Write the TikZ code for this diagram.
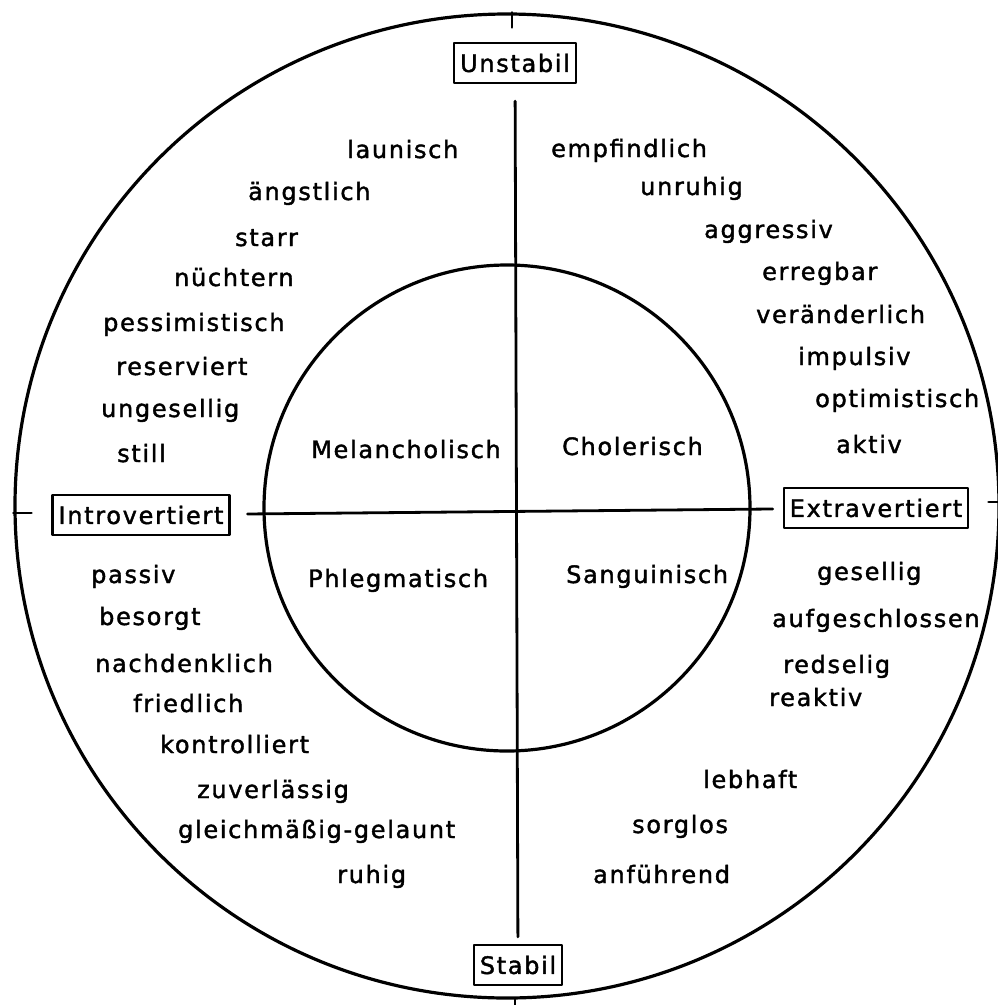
\documentclass[tikz,border=0pt]{standalone}
\usepackage{fontspec}
\setmainfont{DejaVu Sans}[LetterSpace=7,FakeBold=1.6]
\newcommand{\wordfont}{\fontsize{24}{28}\selectfont}

\tikzset{
  ring/.style={draw,circle,line width=3.2pt,inner sep=0pt},
  axis/.style={line width=2.8pt},
  pole/.style={draw,line width=2.2pt,inner xsep=6pt,minimum height=40pt,font=\wordfont},
  trait/.style={anchor=base west,inner sep=0pt,font=\wordfont},
}

\begin{document}
\begin{tikzpicture}[x=1pt,y=-1pt,line cap=round,line join=round]
  \useasboundingbox (0,0) rectangle (997,1005);
  % circles
  \node[ring,minimum size=984pt] (outer) at (507,506) {};
  \node[ring,minimum size=486pt] (inner) at (507,508) {};
  % poles
  \node[pole] (unstabil) at (515,63) {Unstabil};
  \node[pole] (stabil) at (518,965) {Stabil};
  \node[pole] (intro) at (141,515) {Introvertiert};
  \node[pole] (extra) at (876,508) {Extravertiert};
  \draw[axis,shorten <=17pt,shorten >=7pt] (unstabil) -- (stabil);
  \draw[axis,shorten <=17pt,shorten >=10pt] (intro) -- (extra);
  % ticks on the outer circle
  \draw[axis] ([xshift=5pt]outer.north) -- ++(0,15);
  \draw[axis] ([xshift=8pt]outer.south) -- ++(0,10);
  \draw[axis] ([yshift=-7pt]outer.west) -- ++(18,0);
  \draw[axis] ([yshift=4pt]outer.east) -- ++(-12,0);
  % temperaments
  \node[trait] (melan) at (311,458) {Melancholisch};
  \node[trait] (chol) at (562,455) {Cholerisch};
  \node[trait] (phleg) at (308,587) {Phlegmatisch};
  \node[trait] (sang) at (566,583) {Sanguinisch};
  % traits
  \foreach \w/\x/\y [count=\i] in {launisch/347/158,ängstlich/248/200,starr/235/246,nüchtern/174/286,
      pessimistisch/103/331,reserviert/116/375,ungesellig/101/417,still/117/462}
    \node[trait] (ul-\i) at (\x,\y) {\w};
  \foreach \w/\x/\y [count=\i] in {empfindlich/551/157,unruhig/640/195,aggressiv/704/238,erregbar/762/280,
      veränderlich/756/323,impulsiv/798/365,optimistisch/815/407,aktiv/836/453}
    \node[trait] (ur-\i) at (\x,\y) {\w};
  \foreach \w/\x/\y [count=\i] in {passiv/91/583,besorgt/99/625,nachdenklich/95/672,friedlich/133/712,
      kontrolliert/160/753,zuverlässig/197/798,gleichmäßig-gelaunt/178/838,ruhig/337/883}
    \node[trait] (ll-\i) at (\x,\y) {\w};
  \foreach \w/\x/\y [count=\i] in {gesellig/817/580,aufgeschlossen/772/627,redselig/783/673,reaktiv/769/706,
      lebhaft/703/788,sorglos/632/833,anführend/593/883}
    \node[trait] (lr-\i) at (\x,\y) {\w};
\end{tikzpicture}
\end{document}
